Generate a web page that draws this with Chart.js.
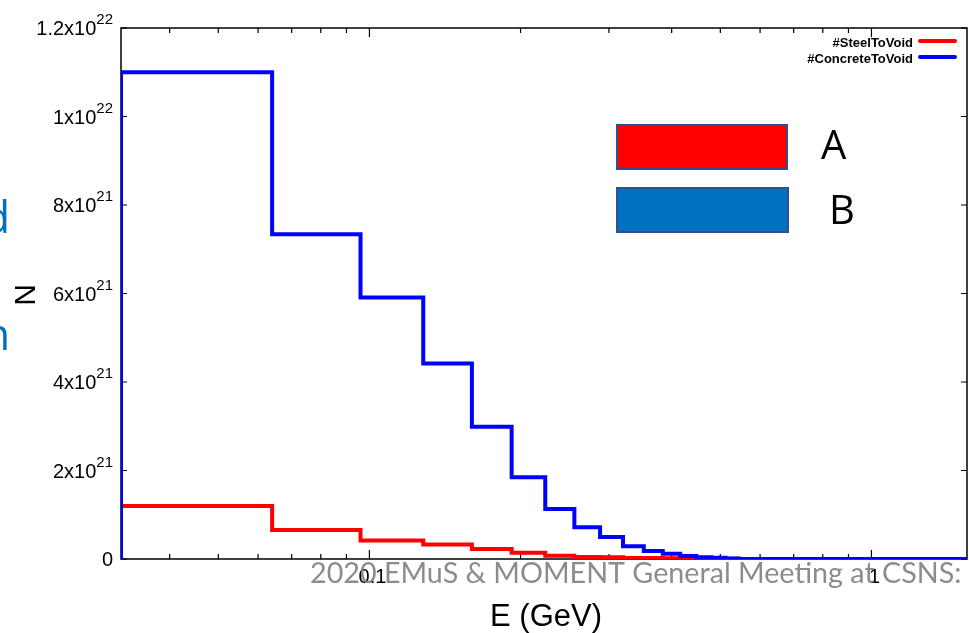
<!DOCTYPE html>
<html>
<head>
<meta charset="utf-8">
<script src="https://cdn.jsdelivr.net/npm/chart.js@4"></script>
<style>
  html, body { margin: 0; padding: 0; background: #fff; }
  #wrap { width: 969px; height: 633px; position: relative; }
</style>
</head>
<body>
<div id="wrap"><canvas id="spectrum"></canvas></div>
<script>
// bin edges in GeV (last bin runs off the right side at zero)
const energyEdges = [0.032, 0.064, 0.096, 0.128, 0.160, 0.192, 0.224, 0.256, 0.288,
  0.320, 0.352, 0.384, 0.416, 0.448, 0.480, 0.512, 0.544, 2.0];
const steelToVoid = [1.20e21, 0.655e21, 0.42e21, 0.33e21, 0.226e21, 0.14e21, 0.075e21, 0.045e21,
  0.04e21, 0.025e21, 0.02e21, 0.015e21, 0.01e21, 0.008e21, 0.005e21, 0.003e21, 0];
const concreteToVoid = [11.0e21, 7.34e21, 5.91e21, 4.42e21, 2.99e21, 1.85e21, 1.13e21, 0.72e21,
  0.50e21, 0.29e21, 0.18e21, 0.12e21, 0.07e21, 0.04e21, 0.03e21, 0.01e21, 0];
const seriesNames = ['#SteelToVoid', '#ConcreteToVoid'];

const xMajorTicks = [0.1, 1];
const xMajorLabels = ['0.1', '1'];
const xMinorTicks = [0.04, 0.05, 0.06, 0.07, 0.08, 0.09, 0.2, 0.3, 0.4, 0.5, 0.6, 0.7, 0.8, 0.9];
const yTicks = [0, 2e21, 4e21, 6e21, 8e21, 1e22, 1.2e22];
const yTickBase = ['0', '2x10', '4x10', '6x10', '8x10', '1x10', '1.2x10'];
const yTickExp = ['', '21', '21', '21', '21', '22', '22'];

const xTitle = 'E (GeV)';
const yTitle = 'N';
const footerText = '2020 EMuS & MOMENT General Meeting at CSNS:';
const boxLabels = ['A', 'B'];

// turn bins into step points
const toSteps = function(values) {
  const pts = [{ x: energyEdges[0], y: 0 }];
  values.forEach((v, i) => pts.push({ x: energyEdges[i], y: v }));
  pts.push({ x: energyEdges[energyEdges.length - 1], y: values[values.length - 1] });
  return pts;
};

const SANS = '"Liberation Sans", Arial, sans-serif';

const framePlugin = {
  id: 'frame',
  beforeDatasetsDraw(chart) {
    const { ctx, chartArea: a, scales: { x, y } } = chart;
    ctx.save();
    ctx.strokeStyle = '#000';
    ctx.lineWidth = 1.5;
    ctx.strokeRect(a.left, a.top, a.right - a.left, a.bottom - a.top);
    ctx.lineWidth = 1.2;
    ctx.beginPath();
    const xTick = (v, len) => {
      const px = x.getPixelForValue(v);
      ctx.moveTo(px, a.bottom); ctx.lineTo(px, a.bottom - len);
      ctx.moveTo(px, a.top); ctx.lineTo(px, a.top + len);
    };
    xMinorTicks.forEach(v => xTick(v, 5));
    xMajorTicks.forEach(v => xTick(v, 9));
    yTicks.forEach(v => {
      const py = y.getPixelForValue(v);
      ctx.moveTo(a.left, py); ctx.lineTo(a.left + 6, py);
      ctx.moveTo(a.right, py); ctx.lineTo(a.right - 6, py);
    });
    ctx.stroke();

    // y tick labels with superscript exponents
    ctx.fillStyle = '#000';
    ctx.textAlign = 'right';
    ctx.textBaseline = 'alphabetic';
    yTicks.forEach((v, i) => {
      const py = y.getPixelForValue(v);
      const xr = a.left - 8;
      let expW = 0;
      if (yTickExp[i]) {
        ctx.font = '15px ' + SANS;
        expW = ctx.measureText(yTickExp[i]).width;
        ctx.fillText(yTickExp[i], xr, py - 4);
      }
      ctx.font = '20px ' + SANS;
      ctx.fillText(yTickBase[i], xr - expW, py + 7);
    });

    // x tick labels
    ctx.textAlign = 'center';
    ctx.font = '20px ' + SANS;
    xMajorTicks.forEach((v, i) => {
      ctx.fillText(xMajorLabels[i], x.getPixelForValue(v) + 3, a.bottom + 24);
    });

    // axis titles
    ctx.font = '31px ' + SANS;
    ctx.fillText(xTitle, 546, 626);
    ctx.save();
    ctx.translate(35, 295);
    ctx.rotate(-Math.PI / 2);
    ctx.font = '30px ' + SANS;
    ctx.fillText(yTitle, 0, 0);
    ctx.restore();

    // legend
    ctx.font = 'bold 13px ' + SANS;
    ctx.textAlign = 'right';
    const legendColors = ['#ff0000', '#0000ff'];
    seriesNames.forEach((name, i) => {
      const ly = 41 + i * 16;
      ctx.fillText(name, 913, ly + 6);
      ctx.strokeStyle = legendColors[i];
      ctx.lineWidth = 4;
      ctx.lineCap = 'round';
      ctx.beginPath();
      ctx.moveTo(920, ly); ctx.lineTo(955, ly);
      ctx.stroke();
    });
    ctx.restore();
  },
  afterDraw(chart) {
    const { ctx } = chart;
    ctx.save();
    // slide annotation boxes
    ctx.lineWidth = 2;
    ctx.strokeStyle = '#2f528f';
    ctx.fillStyle = '#ff0000';
    ctx.fillRect(617, 125, 170, 44);
    ctx.strokeRect(617, 125, 170, 44);
    ctx.fillStyle = '#0070c0';
    ctx.fillRect(617, 188, 171, 44);
    ctx.strokeRect(617, 188, 171, 44);
    ctx.fillStyle = '#000';
    ctx.textAlign = 'left';
    ctx.font = '40px "Open Sans", sans-serif';
    ctx.fillText(boxLabels[0], 821, 159);
    ctx.fillText(boxLabels[1], 829, 224);

    // cut-off slide text on the left edge
    ctx.fillStyle = '#0070c0';
    ctx.textAlign = 'right';
    ctx.font = '43px "Open Sans", sans-serif';
    ctx.fillText('d', 10, 233);
    ctx.fillText('n', 10, 350);

    // footer watermark
    ctx.fillStyle = 'rgba(128,128,128,0.9)';
    ctx.textAlign = 'left';
    ctx.font = '100px Lato, sans-serif';
    const w100 = ctx.measureText(footerText).width;
    const fs = 100 * 652 / w100;
    ctx.font = fs.toFixed(1) + 'px Lato, sans-serif';
    ctx.fillText(footerText, 310, 583);
    ctx.restore();
  }
};

new Chart(document.getElementById('spectrum'), {
  type: 'line',
  data: {
    datasets: [
      {
        label: seriesNames[0],
        data: toSteps(steelToVoid),
        borderColor: '#ff0000',
        borderWidth: 4,
        stepped: 'before',
        pointRadius: 0,
        fill: false,
        order: 1
      },
      {
        label: seriesNames[1],
        data: toSteps(concreteToVoid),
        borderColor: '#0000ff',
        borderWidth: 4,
        stepped: 'before',
        pointRadius: 0,
        fill: false,
        order: 0
      }
    ]
  },
  options: {
    responsive: true,
    maintainAspectRatio: false,
    animation: false,
    layout: { padding: { left: 121, right: 2, top: 28, bottom: 74 } },
    plugins: { legend: { display: false }, tooltip: { enabled: false } },
    elements: { line: { borderJoinStyle: 'miter', tension: 0 } },
    scales: {
      x: { type: 'logarithmic', min: 0.032, max: 1.55, display: false },
      y: { type: 'linear', min: 0, max: 1.2e22, display: false }
    }
  },
  plugins: [framePlugin]
});
</script>
</body>
</html>
